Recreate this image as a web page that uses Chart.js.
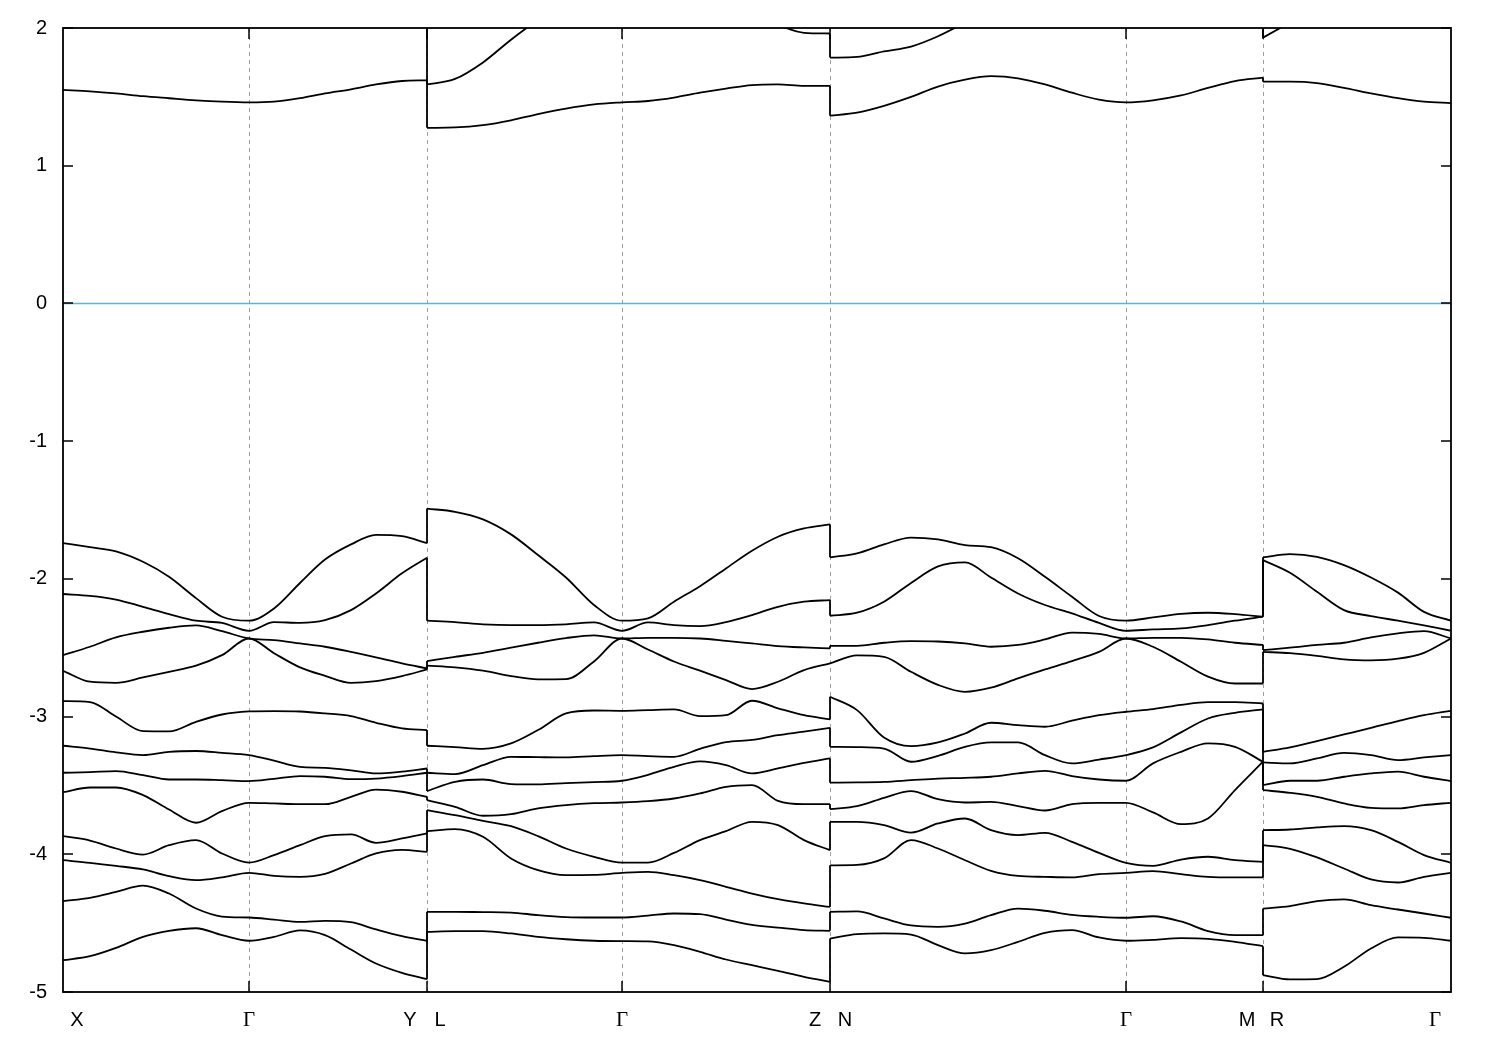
<!DOCTYPE html>
<html>
<head>
<meta charset="utf-8">
<title>Band structure</title>
<script src="https://cdn.jsdelivr.net/npm/chart.js@4.4.1/dist/chart.umd.min.js"></script>
<style>
  html, body { margin: 0; padding: 0; background: #fff; }
  #wrap { width: 1500px; height: 1050px; }
</style>
</head>
<body>
<div id="wrap"><canvas id="bands" width="1500" height="1050"></canvas></div>
<script>
// ------------------------------------------------------------
// k-path: X-Γ-Y | L-Γ-Z | N-Γ-M | R-Γ
// ------------------------------------------------------------
const kPoints = [0, 1.86, 3.64, 5.59, 7.67, 10.63, 12.00, 13.88];
const kLabels = ['X', 'Γ', 'Y', 'L', 'Γ', 'Z', 'N', 'Γ', 'M', 'R', 'Γ'];
const kLabelAt = [0, 1.86, 3.64, 3.64, 5.59, 7.67, 7.67, 10.63, 12.00, 12.00, 13.88];

const kXGY = [0.00, 0.27, 0.53, 0.80, 1.06, 1.33, 1.59, 1.86, 2.11, 2.37, 2.62, 2.88, 3.13, 3.39, 3.64];
const kLGZ = [3.64, 3.92, 4.20, 4.48, 4.75, 5.03, 5.31, 5.59, 5.85, 6.11, 6.37, 6.63, 6.89, 7.15, 7.41, 7.67];
const kNGM = [7.67, 7.94, 8.21, 8.48, 8.75, 9.02, 9.28, 9.55, 9.82, 10.09, 10.36, 10.63, 10.90, 11.18, 11.45, 11.72, 12.00];
const kRG = [12.00, 12.27, 12.54, 12.81, 13.08, 13.35, 13.61, 13.88];

const fermiLevel = 0;

// energies (eV), one row per band, read along each segment
const eXGY = [
    [2.6, 2.6, 2.55, 2.5, 2.45, 2.4, 2.4, 2.4, 2.4, 2.45, 2.5, 2.55, 2.6, 2.6, 2.6],
    [1.55, 1.54, 1.525, 1.505, 1.49, 1.475, 1.465, 1.46, 1.465, 1.49, 1.525, 1.555, 1.59, 1.615, 1.62],
    [-1.74, -1.77, -1.80, -1.876, -1.985, -2.14, -2.275, -2.304, -2.215, -2.03, -1.86, -1.75, -1.68, -1.69, -1.74],
    [-2.11, -2.123, -2.15, -2.203, -2.256, -2.304, -2.32, -2.377, -2.314, -2.32, -2.30, -2.227, -2.106, -1.96, -1.847],
    [-2.554, -2.493, -2.425, -2.384, -2.355, -2.338, -2.38, -2.433, -2.445, -2.469, -2.493, -2.53, -2.57, -2.614, -2.65],
    [-2.667, -2.747, -2.755, -2.716, -2.675, -2.63, -2.554, -2.433, -2.54, -2.643, -2.704, -2.755, -2.742, -2.706, -2.658],
    [-2.888, -2.895, -3.00, -3.106, -3.108, -3.038, -2.985, -2.963, -2.96, -2.963, -2.977, -2.997, -3.045, -3.086, -3.098],
    [-3.212, -3.232, -3.26, -3.28, -3.256, -3.25, -3.263, -3.28, -3.32, -3.365, -3.372, -3.39, -3.413, -3.40, -3.377],
    [-3.408, -3.403, -3.396, -3.425, -3.457, -3.457, -3.462, -3.469, -3.452, -3.432, -3.437, -3.454, -3.45, -3.432, -3.408],
    [-3.549, -3.515, -3.515, -3.57, -3.675, -3.771, -3.687, -3.626, -3.631, -3.636, -3.636, -3.583, -3.53, -3.546, -3.583],
    [-3.868, -3.90, -3.958, -4.002, -3.934, -3.897, -3.994, -4.06, -4.006, -3.934, -3.868, -3.856, -3.917, -3.885, -3.849],
    [-4.043, -4.062, -4.084, -4.11, -4.159, -4.188, -4.168, -4.135, -4.157, -4.164, -4.142, -4.067, -3.994, -3.968, -3.982],
    [-4.34, -4.316, -4.273, -4.227, -4.285, -4.394, -4.452, -4.459, -4.474, -4.491, -4.483, -4.493, -4.546, -4.595, -4.628],
    [-4.769, -4.74, -4.68, -4.60, -4.556, -4.537, -4.587, -4.628, -4.60, -4.553, -4.587, -4.692, -4.793, -4.861, -4.907]
];

const eLGZ = [
    [1.59, 1.63, 1.75, 1.915, 2.06, 2.2, 2.3, 2.35, 2.35, 2.3, 2.22, 2.15, 2.08, 2.02, 1.965, 1.96],
    [1.275, 1.278, 1.295, 1.33, 1.375, 1.415, 1.445, 1.46, 1.47, 1.495, 1.53, 1.56, 1.585, 1.59, 1.58, 1.58],
    [-1.49, -1.513, -1.568, -1.677, -1.827, -1.99, -2.19, -2.304, -2.287, -2.166, -2.053, -1.924, -1.796, -1.694, -1.634, -1.605],
    [-2.304, -2.314, -2.33, -2.336, -2.336, -2.33, -2.316, -2.377, -2.316, -2.336, -2.343, -2.314, -2.263, -2.203, -2.166, -2.154],
    [-2.597, -2.566, -2.537, -2.50, -2.464, -2.43, -2.41, -2.433, -2.428, -2.428, -2.433, -2.45, -2.469, -2.488, -2.498, -2.505],
    [-2.63, -2.643, -2.667, -2.706, -2.73, -2.728, -2.60, -2.433, -2.513, -2.60, -2.667, -2.735, -2.80, -2.747, -2.663, -2.614],
    [-3.212, -3.222, -3.234, -3.195, -3.098, -2.977, -2.956, -2.958, -2.953, -2.948, -2.997, -2.99, -2.885, -2.94, -2.99, -3.02],
    [-3.408, -3.418, -3.353, -3.292, -3.295, -3.297, -3.287, -3.28, -3.287, -3.292, -3.234, -3.186, -3.17, -3.135, -3.11, -3.082],
    [-3.541, -3.474, -3.457, -3.49, -3.493, -3.483, -3.476, -3.466, -3.423, -3.365, -3.326, -3.353, -3.413, -3.377, -3.336, -3.304],
    [-3.607, -3.655, -3.72, -3.796, -3.868, -3.958, -4.018, -4.06, -4.06, -3.99, -3.897, -3.832, -3.764, -3.788, -3.897, -3.97],
    [-3.68, -3.716, -3.757, -3.709, -3.667, -3.643, -3.629, -3.624, -3.614, -3.595, -3.558, -3.51, -3.498, -3.612, -3.636, -3.636],
    [-3.832, -3.817, -3.873, -4.03, -4.115, -4.152, -4.15, -4.135, -4.127, -4.152, -4.188, -4.236, -4.285, -4.326, -4.357, -4.382],
    [-4.418, -4.418, -4.42, -4.423, -4.442, -4.456, -4.459, -4.459, -4.445, -4.43, -4.435, -4.474, -4.512, -4.532, -4.551, -4.556],
    [-4.563, -4.558, -4.558, -4.575, -4.60, -4.617, -4.628, -4.631, -4.633, -4.66, -4.708, -4.764, -4.805, -4.846, -4.89, -4.926]
];

const eNGM = [
    [1.785, 1.79, 1.83, 1.865, 1.94, 2.04, 2.14, 2.22, 2.3, 2.35, 2.38, 2.4, 2.38, 2.3, 2.22, 2.15, 2.1],
    [1.363, 1.385, 1.435, 1.50, 1.575, 1.625, 1.65, 1.635, 1.59, 1.53, 1.48, 1.46, 1.475, 1.51, 1.565, 1.615, 1.64],
    [-1.844, -1.815, -1.75, -1.70, -1.714, -1.755, -1.77, -1.85, -1.985, -2.13, -2.27, -2.304, -2.28, -2.254, -2.246, -2.256, -2.275],
    [-2.268, -2.246, -2.166, -2.03, -1.91, -1.88, -1.99, -2.106, -2.19, -2.25, -2.32, -2.377, -2.367, -2.36, -2.336, -2.304, -2.275],
    [-2.486, -2.486, -2.464, -2.452, -2.455, -2.469, -2.493, -2.48, -2.44, -2.39, -2.40, -2.433, -2.428, -2.428, -2.44, -2.464, -2.48],
    [-2.614, -2.556, -2.566, -2.675, -2.77, -2.82, -2.79, -2.723, -2.658, -2.597, -2.53, -2.433, -2.493, -2.602, -2.71, -2.76, -2.76],
    [-2.856, -2.953, -3.152, -3.215, -3.188, -3.123, -3.045, -3.062, -3.074, -3.03, -2.99, -2.965, -2.946, -2.915, -2.895, -2.895, -2.905],
    [-3.22, -3.222, -3.232, -3.328, -3.285, -3.22, -3.188, -3.188, -3.28, -3.34, -3.312, -3.28, -3.224, -3.115, -3.014, -2.973, -2.948],
    [-3.48, -3.478, -3.474, -3.462, -3.45, -3.445, -3.437, -3.413, -3.394, -3.432, -3.457, -3.466, -3.34, -3.256, -3.195, -3.22, -3.328],
    [-3.672, -3.65, -3.59, -3.541, -3.60, -3.624, -3.62, -3.65, -3.682, -3.636, -3.626, -3.626, -3.696, -3.781, -3.74, -3.534, -3.328],
    [-3.764, -3.764, -3.788, -3.842, -3.776, -3.74, -3.825, -3.861, -3.844, -3.91, -3.99, -4.062, -4.084, -4.038, -4.018, -4.043, -4.055],
    [-4.08, -4.077, -4.03, -3.897, -3.958, -4.043, -4.12, -4.157, -4.164, -4.168, -4.144, -4.135, -4.122, -4.144, -4.164, -4.168, -4.168],
    [-4.418, -4.415, -4.466, -4.517, -4.527, -4.503, -4.442, -4.394, -4.41, -4.44, -4.454, -4.461, -4.45, -4.488, -4.558, -4.587, -4.587],
    [-4.612, -4.58, -4.575, -4.583, -4.66, -4.72, -4.696, -4.636, -4.57, -4.551, -4.604, -4.628, -4.621, -4.609, -4.614, -4.636, -4.667]
];

const eRG = [
    [1.93, 2.04, 2.15, 2.25, 2.3, 2.35, 2.4, 2.4],
    [1.61, 1.61, 1.60, 1.565, 1.525, 1.49, 1.465, 1.455],
    [-1.844, -1.82, -1.84, -1.90, -1.99, -2.10, -2.24, -2.304],
    [-1.864, -1.956, -2.094, -2.227, -2.27, -2.304, -2.338, -2.377],
    [-2.517, -2.50, -2.48, -2.464, -2.425, -2.396, -2.38, -2.433],
    [-2.53, -2.54, -2.56, -2.585, -2.592, -2.58, -2.537, -2.433],
    [-3.256, -3.224, -3.178, -3.13, -3.082, -3.033, -2.99, -2.958],
    [-3.333, -3.34, -3.304, -3.263, -3.28, -3.316, -3.297, -3.28],
    [-3.498, -3.466, -3.466, -3.437, -3.413, -3.40, -3.437, -3.469],
    [-3.534, -3.554, -3.583, -3.631, -3.663, -3.667, -3.643, -3.626],
    [-3.825, -3.82, -3.805, -3.796, -3.825, -3.91, -4.006, -4.062],
    [-3.934, -3.96, -4.023, -4.103, -4.183, -4.205, -4.164, -4.135],
    [-4.394, -4.377, -4.34, -4.328, -4.37, -4.401, -4.43, -4.461],
    [-4.878, -4.909, -4.907, -4.817, -4.684, -4.604, -4.607, -4.628]
];

// ------------------------------------------------------------
// build the bands (sorted by energy at every k, like the band index)
// ------------------------------------------------------------
const segments = [
    { k: kXGY, e: eXGY },
    { k: kLGZ, e: eLGZ },
    { k: kNGM, e: eNGM },
    { k: kRG, e: eRG }
];

function sortByIndex(seg) {
    const bands = seg.e.map(() => []);
    for (let j = 0; j < seg.k.length; j++) {
        const col = seg.e.map(row => row[j]).sort((p, q) => q - p);
        col.forEach((v, i) => bands[i].push(v));
    }
    return bands;
}

const BAND_COLOR = '#000000';
const BAND_WIDTH = 1.8;

function bandSet(points, smooth) {
    return {
        data: points,
        borderColor: BAND_COLOR,
        borderWidth: BAND_WIDTH,
        pointRadius: 0,
        fill: false,
        tension: 0,
        cubicInterpolationMode: smooth ? 'monotone' : 'default'
    };
}

const sorted = segments.map(sortByIndex);
const datasets = [];

sorted.forEach((bands, s) => {
    bands.forEach(b => {
        datasets.push(bandSet(segments[s].k.map((k, j) => ({ x: k, y: b[j] })), true));
    });
});

// vertical jumps where the path breaks (Y|L, Z|N, M|R)
for (let s = 0; s < sorted.length - 1; s++) {
    const kk = segments[s].k;
    const kBreak = kk[kk.length - 1];
    sorted[s].forEach((b, i) => {
        const next = sorted[s + 1][i];
        datasets.push(bandSet([{ x: kBreak, y: b[b.length - 1] }, { x: kBreak, y: next[0] }], false));
    });
}

// Fermi level
datasets.push({
    data: [{ x: kPoints[0], y: fermiLevel }, { x: kPoints[kPoints.length - 1], y: fermiLevel }],
    borderColor: '#56b4e9',
    borderWidth: 1.5,
    pointRadius: 0,
    fill: false
});

// ------------------------------------------------------------
// frame, inward ticks, dashed symmetry lines, path labels
// ------------------------------------------------------------
const labelShift = [14, 0, -17, 13, 0, -15, 15, 0, -16, 14, -16];

const framePlugin = {
    id: 'frame',
    beforeDatasetsDraw(chart) {
        const { ctx, chartArea: a, scales: { x } } = chart;
        ctx.save();
        ctx.strokeStyle = '#a0a0a0';
        ctx.lineWidth = 1;
        ctx.setLineDash([4, 4]);
        kPoints.slice(1, -1).forEach(k => {
            const px = Math.round(x.getPixelForValue(k)) + 0.5;
            ctx.beginPath();
            ctx.moveTo(px, a.top);
            ctx.lineTo(px, a.bottom);
            ctx.stroke();
        });
        ctx.restore();
    },
    afterDraw(chart) {
        const { ctx, chartArea: a, scales: { x, y } } = chart;
        ctx.save();
        ctx.strokeStyle = '#000';
        ctx.lineWidth = 1.8;
        ctx.strokeRect(a.left, a.top, a.right - a.left, a.bottom - a.top);

        ctx.lineWidth = 1.5;
        ctx.beginPath();
        kPoints.slice(1, -1).forEach(k => {
            const px = Math.round(x.getPixelForValue(k));
            ctx.moveTo(px, a.bottom); ctx.lineTo(px, a.bottom - 11);
            ctx.moveTo(px, a.top); ctx.lineTo(px, a.top + 11);
        });
        y.ticks.forEach(t => {
            const py = Math.round(y.getPixelForValue(t.value));
            ctx.moveTo(a.left, py); ctx.lineTo(a.left + 10, py);
            ctx.moveTo(a.right, py); ctx.lineTo(a.right - 10, py);
        });
        ctx.stroke();

        ctx.fillStyle = '#000';
        ctx.textAlign = 'center';
        ctx.textBaseline = 'middle';
        kLabels.forEach((lab, i) => {
            // Γ comes from a symbol (serif) face in the original
            ctx.font = lab === 'Γ'
                ? '21px "Liberation Serif", "DejaVu Serif", serif'
                : '20px "Liberation Sans", Arial, sans-serif';
            ctx.fillText(lab, x.getPixelForValue(kLabelAt[i]) + labelShift[i], a.bottom + 28);
        });
        ctx.restore();
    }
};

new Chart(document.getElementById('bands'), {
    type: 'line',
    data: { datasets },
    options: {
        responsive: false,
        animation: false,
        events: [],
        layout: { padding: { top: 28, right: 49, left: 0, bottom: 0 } },
        plugins: { legend: { display: false }, tooltip: { enabled: false } },
        scales: {
            x: {
                type: 'linear',
                min: kPoints[0],
                max: kPoints[kPoints.length - 1],
                ticks: { display: false },
                grid: { display: false, drawTicks: false },
                border: { display: false },
                afterFit: s => { s.height = 58; }
            },
            y: {
                min: -5,
                max: 2,
                ticks: {
                    stepSize: 1,
                    padding: 16,
                    color: '#000',
                    font: { family: '"Liberation Sans", Arial, sans-serif', size: 20 }
                },
                grid: { display: false, drawTicks: false },
                border: { display: false },
                afterFit: s => { s.width = 63; }
            }
        }
    },
    plugins: [framePlugin]
});
</script>
</body>
</html>
